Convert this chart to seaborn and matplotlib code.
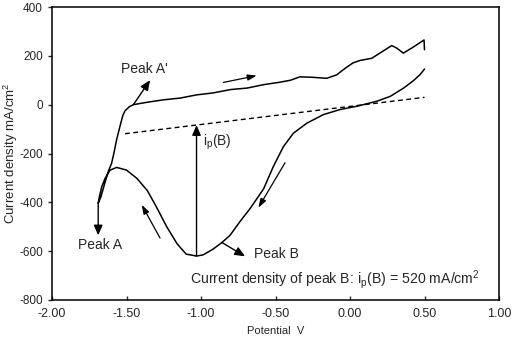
import matplotlib
matplotlib.use("Agg")
import matplotlib.pyplot as plt
import matplotlib.ticker as mtick
import seaborn as sns
import pandas as pd

# cyclisk voltammogram: katodisk sweep fra 0.5 V, derefter anodisk tilbage
potential = [0.50, 0.47, 0.425, 0.36, 0.27, 0.18, 0.05, -0.067, -0.18, -0.29,
             -0.38, -0.447, -0.515, -0.58, -0.67, -0.74, -0.805, -0.86, -0.92, -0.985,
             -1.03, -1.10, -1.16, -1.23, -1.30, -1.36, -1.43, -1.50, -1.566, -1.61,
             -1.644, -1.666, -1.682, -1.69,
             -1.672, -1.645, -1.62, -1.60, -1.585, -1.565, -1.544, -1.525, -1.51, -1.48,
             -1.454, -1.36, -1.25, -1.14, -1.03, -0.92, -0.80, -0.69, -0.58, -0.47,
             -0.40, -0.336, -0.25, -0.156, -0.09, -0.03, 0.02, 0.067, 0.146, 0.20,
             0.28, 0.313, 0.358, 0.425, 0.497, 0.50]
current = [146, 123, 98, 68, 34, 14, -6, -20, -41, -76,
           -117, -172, -254, -345, -425, -480, -535, -565, -592, -615,
           -620, -612, -570, -500, -418, -352, -302, -268, -257, -268,
           -302, -336, -377, -404,
           -378, -320, -270, -240, -200, -140, -89, -45, -25, -8,
           0, 10, 20, 27, 40, 48, 62, 68, 82, 92,
           100, 114, 112, 108, 122, 150, 171, 181, 190, 211,
           242, 232, 211, 236, 265, 225]

# basislinje til aflæsning af ip(B)
base_x = [-1.51, 0.50]
base_y = [-119, 30]

x_ticks = [-2.0, -1.5, -1.0, -0.5, 0.0, 0.5, 1.0]
y_ticks = [-800, -600, -400, -200, 0, 200, 400]

sns.set_theme(style="ticks")
plt.rcParams["font.family"] = ["Liberation Sans", "DejaVu Sans"]
plt.rcParams["mathtext.fontset"] = "custom"
plt.rcParams["mathtext.rm"] = "Liberation Sans"
plt.rcParams["mathtext.it"] = "Liberation Sans"
plt.rcParams["axes.unicode_minus"] = False

df = pd.DataFrame({"E": potential, "i": current})
df_base = pd.DataFrame({"E": base_x, "i": base_y})

fig = plt.figure(figsize=(5.12, 3.39), dpi=100)
ax = fig.add_axes([52 / 512, 1 - 300 / 339, 447 / 512, 293 / 339])

sns.lineplot(data=df, x="E", y="i", sort=False, estimator=None,
             color="black", lw=1.1, ax=ax)
sns.lineplot(data=df_base, x="E", y="i", sort=False, estimator=None,
             color="black", lw=1.0, ax=ax)
ax.lines[-1].set_dashes((3.5, 2.5))

ax.set_xlim(-2.0, 1.0)
ax.set_ylim(-800, 400)
ax.set_xticks(x_ticks)
ax.set_yticks(y_ticks)
ax.xaxis.set_major_formatter(mtick.FormatStrFormatter("%.2f"))
ax.tick_params(axis="x", direction="in", length=3, width=1, labelsize=9, pad=6)
ax.tick_params(axis="y", direction="out", length=3, width=1, labelsize=8.5, pad=3.5)

ax.set_xlabel("Potential  V", fontsize=8, labelpad=4)
ax.set_ylabel("Current density mA/cm$^2$", fontsize=9.5)
ax.yaxis.set_label_coords(-0.072, 0.5)

for spine in ax.spines.values():
    spine.set_visible(True)
    spine.set_linewidth(1.1)
    spine.set_edgecolor("black")

# pile
filled = dict(arrowstyle="-|>,head_length=0.5,head_width=0.22", color="black", lw=1.0,
              shrinkA=0, shrinkB=0)
opened = dict(arrowstyle="-|>,head_length=0.45,head_width=0.15", color="black", lw=0.9,
              shrinkA=0, shrinkB=0)
ax.annotate("", xy=(-1.342, 100), xytext=(-1.454, 0), arrowprops=filled)
ax.annotate("", xy=(-0.626, 119), xytext=(-0.85, 91), arrowprops=opened)
ax.annotate("", xy=(-1.69, -535), xytext=(-1.69, -404), arrowprops=filled)
ax.annotate("", xy=(-1.398, -410), xytext=(-1.275, -546), arrowprops=opened)
ax.annotate("", xy=(-0.615, -422), xytext=(-0.436, -238), arrowprops=opened)
ax.annotate("", xy=(-0.705, -621), xytext=(-0.861, -564), arrowprops=filled)
ax.annotate("", xy=(-1.03, -84), xytext=(-1.03, -620), arrowprops=filled)

# tekster
ax.text(-1.54, 147, "Peak A'", fontsize=10, va="center", ha="left")
ax.text(-1.825, -575, "Peak A", fontsize=10, va="center", ha="left")
ax.text(-0.644, -612, "Peak B", fontsize=10, va="center", ha="left")
ax.text(-0.987, -156, "i$_\\mathrm{p}$(B)", fontsize=10, va="center", ha="left")
ax.text(-1.074, -717, "Current density of peak B: i$_\\mathrm{p}$(B) = 520 mA/cm$^2$",
        fontsize=10.2, va="center", ha="left")

fig.savefig("out.png", dpi=100)
